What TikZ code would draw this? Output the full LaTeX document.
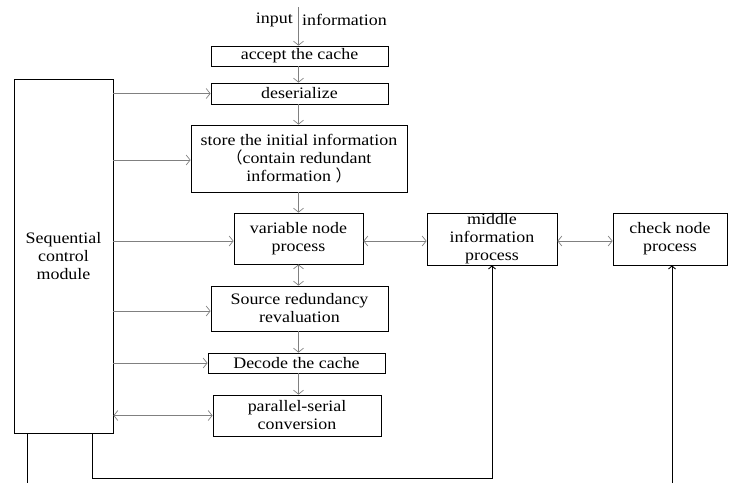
\documentclass[tikz,border=0pt]{standalone}
\usepackage{fontspec}
\setmainfont{Liberation Serif}[FakeStretch=1.12]
\newfontfamily\cjk{Noto Sans CJK SC}
\usetikzlibrary{arrows.meta}

\begin{document}
\begin{tikzpicture}[x=1pt,y=-1pt]
            \tikzstyle{every node}+=[inner sep=0pt, font=\fontsize{16}{18}\selectfont]
            \tikzstyle{box}=[draw=black, line width=0.8pt, align=center]
            \tikzstyle{flow}=[draw=gray, line width=0.7pt, -{Straight Barb[length=4pt,width=10pt]}]
            \tikzstyle{flowboth}=[draw=gray, line width=0.7pt, {Straight Barb[length=4pt,width=10pt]}-{Straight Barb[length=4pt,width=10pt]}]
            \tikzstyle{wire}=[draw=black, line width=0.9pt]
            \tikzstyle{wiretip}=[wire, -{Straight Barb[length=3pt,width=7pt]}]
            \useasboundingbox (0,0) rectangle (729,483);
            \node[box, minimum width=177, minimum height=20] (accept) at (299.5,56) {accept the cache};
            \node[box, minimum width=177, minimum height=21] (deser) at (299.5,93.5) {deserialize};
            \node[box, minimum width=216, minimum height=67] (store) at (299,158.5) {store the initial information\\{\cjk （}contain redundant\\information {\cjk ）}};
            \node[box, minimum width=99, minimum height=354] (seq) at (63.5,256) {Sequential\\control\\module};
            \node[box, minimum width=129, minimum height=51] (var) at (298.5,238.5) {variable node\\process};
            \node[box, minimum width=130, minimum height=52] (mid) at (492,239) {middle\\information\\process};
            \node[box, minimum width=114, minimum height=52] (check) at (670,239) {check node\\process};
            \node[box, minimum width=177, minimum height=45] (source) at (299.5,308.5) {Source redundancy\\revaluation};
            \node[box, minimum width=177, minimum height=20] (decode) at (296.5,363) {Decode the cache};
            \node[box, minimum width=168, minimum height=41] (para) at (297,415.5) {parallel-serial\\conversion};
            \coordinate (in) at (298.5,7);
            \node[anchor=east] (inL) at (293,20) {input};
            \node[anchor=west] (inR) at (302,20) {information};
            \draw[flow] (in) -- (in |- accept.north);
            \draw[flow] (accept.south -| var) -- (deser.north -| var);
            \draw[flow] (deser.south -| var) -- (store.north -| var);
            \draw[flow] (store.south -| var) -- (var.north);
            \draw[flowboth] (var.south) -- (source.north -| var);
            \draw[flow] (source.south -| var) -- (decode.north -| var);
            \draw[flow] (decode.south -| var) -- (para.north -| var);
            \draw[flow] (seq.east |- deser) -- (deser.west);
            \draw[flow] (seq.east |- 0,160) -- (store.west |- 0,160);
            \draw[flow] (seq.east |- 0,241) -- (var.west |- 0,241);
            \draw[flow] (seq.east |- 0,311) -- (source.west |- 0,311);
            \draw[flow] (seq.east |- decode) -- (decode.west);
            \draw[flowboth] (seq.east |- para) -- (para.west);
            \draw[flowboth] (var.east |- 0,241) -- (mid.west |- 0,241);
            \draw[flowboth] (mid.east |- 0,241) -- (check.west |- 0,241);
            \coordinate (bl) at (27,483);
            \coordinate (bm) at (92,478);
            \coordinate (br) at (672,483);
            \draw[wire] (seq.south -| bl) -- (bl);
            \draw[wiretip] (seq.south -| bm) -- (bm) -| (mid.south);
            \draw[wiretip] (br) -- (br |- check.south);
\end{tikzpicture}
\end{document}
